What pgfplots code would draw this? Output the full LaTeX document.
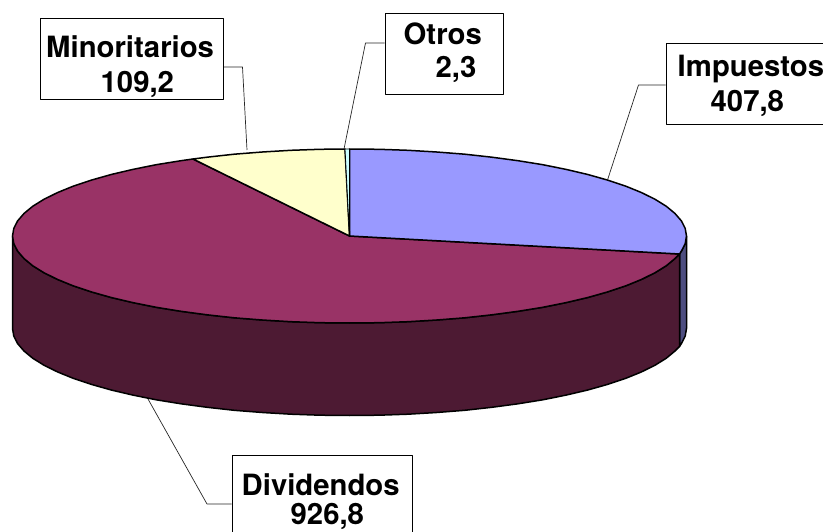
\documentclass[border=0pt]{standalone}
\usepackage{pgfplots}
\pgfplotsset{compat=1.18}
\usepackage{fontspec}
\setmainfont{TeX Gyre Heros}
\definecolor{cblue}{HTML}{9999FF}
\definecolor{cblueS}{HTML}{4D4D80}
\definecolor{cplum}{HTML}{993366}
\definecolor{cplumS}{HTML}{4D1A33}
\definecolor{cyel}{HTML}{FFFFCC}
\definecolor{ccyan}{HTML}{CCFFFF}
\tikzset{lbl/.style={anchor=base west,inner sep=0pt,font=\fontsize{29.3}{29.3}\selectfont\bfseries,text=black}}
\begin{document}
\begin{tikzpicture}[x=1pt,y=1pt]
\path[use as bounding box] (0,0) rectangle (823,532);
\begin{axis}[
  at={(0,0)}, anchor=south west,
  width=823pt, height=532pt, scale only axis,
  xmin=-0.5, xmax=822.5, ymin=0, ymax=532, y dir=reverse,
  hide axis, clip=true,
  every axis plot/.append style={line join=round},
]
% side, Impuestos
\addplot[fill=cblueS,draw=black,line width=1.5pt] coordinates {
(679,254)(680.9,251.1)(684.7,243.6)(686,236)(686,328.5)(684.7,336.1)(680.9,343.6)(679,346.5)} -- cycle;
% side, Dividendos
\addplot[fill=cplumS,draw=black,line width=1.5pt] coordinates {
(679,254)(674.5,258.5)(665.7,265.8)(654.4,272.8)(640.8,279.5)(625.1,285.9)(607.1,291.9)(587.3,297.5)(565.6,302.6)(542.3,307.3)(517.5,311.3)(491.4,314.8)(464.3,317.8)(436.2,320)(407.5,321.7)(378.4,322.7)(349,323)(319.6,322.7)(290.5,321.7)(261.8,320)(233.7,317.8)(206.6,314.8)(180.5,311.3)(155.7,307.3)(132.4,302.6)(110.7,297.5)(90.9,291.9)(72.9,285.9)(57.2,279.5)(43.6,272.8)(32.3,265.8)(23.5,258.5)(17.1,251.1)(13.3,243.6)(12,236)
(12,328.5)(13.3,336.1)(17.1,343.6)(23.5,351)(32.3,358.3)(43.6,365.3)(57.2,372)(72.9,378.4)(90.9,384.4)(110.7,390)(132.4,395.1)(155.7,399.8)(180.5,403.8)(206.6,407.3)(233.7,410.3)(261.8,412.5)(290.5,414.2)(319.6,415.2)(349,415.5)(378.4,415.2)(407.5,414.2)(436.2,412.5)(464.3,410.3)(491.4,407.3)(517.5,403.8)(542.3,399.8)(565.6,395.1)(587.3,390)(607.1,384.4)(625.1,378.4)(640.8,372)(654.4,365.3)(665.7,358.3)(674.5,351)(679,346.5)} -- cycle;
% top, Dividendos
\addplot[fill=cplum,draw=black,line width=1.5pt] coordinates {
(349,236)(679,254)(674.5,258.5)(665.7,265.8)(654.4,272.8)(640.8,279.5)(625.1,285.9)(607.1,291.9)(587.3,297.5)(565.6,302.6)(542.3,307.3)(517.5,311.3)(491.4,314.8)(464.3,317.8)(436.2,320)(407.5,321.7)(378.4,322.7)(349,323)(319.6,322.7)(290.5,321.7)(261.8,320)(233.7,317.8)(206.6,314.8)(180.5,311.3)(155.7,307.3)(132.4,302.6)(110.7,297.5)(90.9,291.9)(72.9,285.9)(57.2,279.5)(43.6,272.8)(32.3,265.8)(23.5,258.5)(17.1,251.1)(13.3,243.6)(12,236)(13.3,228.4)(17.1,220.9)(23.5,213.5)(32.3,206.2)(43.6,199.2)(57.2,192.5)(72.9,186.1)(90.9,180.1)(110.7,174.5)(132.4,169.4)(155.7,164.7)(180.5,160.7)(192.5,159)} -- cycle;
% top, Impuestos
\addplot[fill=cblue,draw=black,line width=1.5pt] coordinates {
(349,236)(349,149)(378.4,149.3)(407.5,150.3)(436.2,152)(464.3,154.2)(491.4,157.2)(517.5,160.7)(542.3,164.7)(565.6,169.4)(587.3,174.5)(607.1,180.1)(625.1,186.1)(640.8,192.5)(654.4,199.2)(665.7,206.2)(674.5,213.5)(680.9,220.9)(684.7,228.4)(686,236)(684.7,243.6)(680.9,251.1)(679,254)} -- cycle;
% top, Minoritarios
\addplot[fill=cyel,draw=black,line width=1.5pt] coordinates {
(349,236)(192.5,159)(206.6,157.2)(233.7,154.2)(261.8,152)(290.5,150.3)(319.6,149.3)(344.5,149)} -- cycle;
% top, Otros
\addplot[fill=ccyan,draw=black,line width=0.8pt] coordinates {
(349,236)(344.5,149)(349,149)} -- cycle;
% leader lines
\addplot[draw=black!85,line width=0.7pt] coordinates {(223,67)(242,67)(246.5,150)};
\addplot[draw=black!85,line width=0.7pt] coordinates {(384,43)(365,43)(343.5,149)};
\addplot[draw=black!85,line width=0.7pt] coordinates {(665,85)(638,85)(607,180)};
\addplot[draw=black!85,line width=0.7pt] coordinates {(231,504)(206.5,504)(147.5,399)};
% label boxes
\addplot[fill=white,draw=black,line width=0.8pt] coordinates {(40,18)(223,18)(223,99)(40,99)} -- cycle;
\addplot[fill=white,draw=black,line width=0.8pt] coordinates {(384.5,13)(502.5,13)(502.5,94.5)(384.5,94.5)} -- cycle;
\addplot[fill=white,draw=black,line width=0.8pt] coordinates {(665.5,43)(830,43)(830,124.5)(665.5,124.5)} -- cycle;
\addplot[fill=white,draw=black,line width=0.8pt] coordinates {(231.5,455.5)(411.5,455.5)(411.5,540)(231.5,540)} -- cycle;
% texts
\node[lbl] at (axis cs:45.5,58) {Minoritarios};
\node[lbl] at (axis cs:100,93) {109,2};
\node[lbl] at (axis cs:403,45) {Otros};
\node[lbl] at (axis cs:435,78) {2,3};
\node[lbl] at (axis cs:677,77) {Impuestos};
\node[lbl] at (axis cs:710,112) {407,8};
\node[lbl] at (axis cs:241,495.5) {Dividendos};
\node[lbl] at (axis cs:290,524) {926,8};
\end{axis}
\end{tikzpicture}
\end{document}
